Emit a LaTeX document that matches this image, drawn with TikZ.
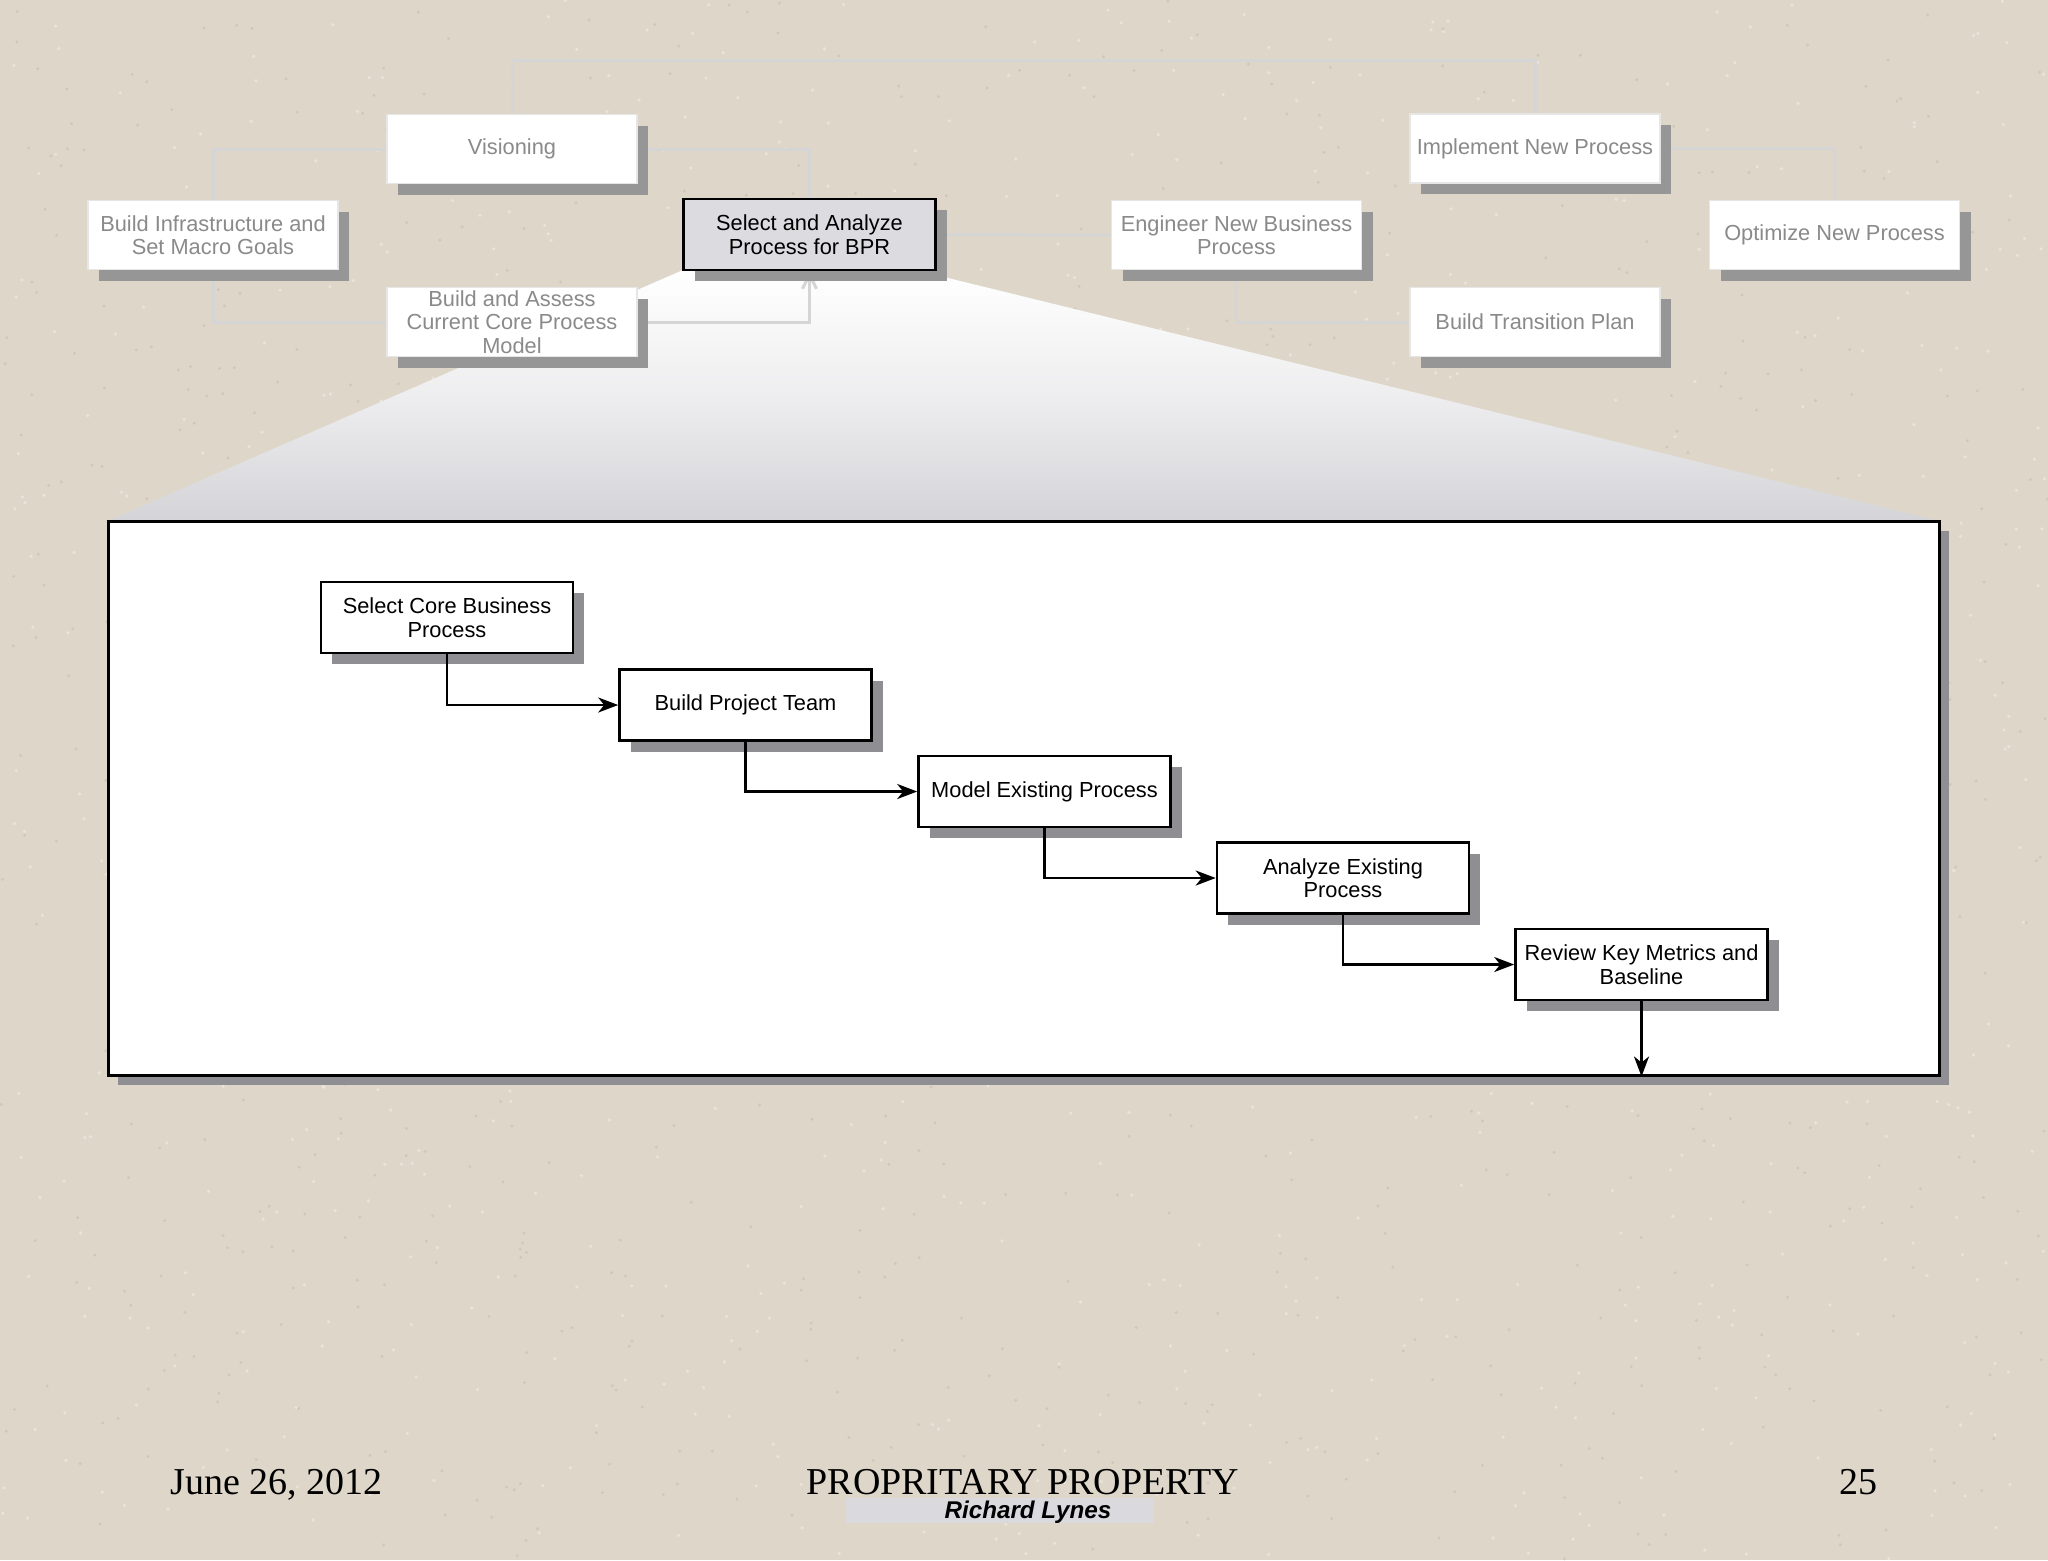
\documentclass[tikz,border=0pt]{standalone}
\usepackage{fontspec}
\setmainfont{Liberation Sans}
\newfontfamily\serifft{Liberation Serif}
\usetikzlibrary{arrows.meta,shadows}
\definecolor{bgbeige}{HTML}{DED7C9}
\definecolor{speckdark}{HTML}{C4BBAA}
\definecolor{specklight}{HTML}{EEEAE2}
\definecolor{funnelgray}{HTML}{D4D4D8}
\definecolor{fadetext}{HTML}{8A8A8A}
\definecolor{fadeborder}{HTML}{E6E6E6}
\definecolor{fadeshadow}{HTML}{969696}
\definecolor{fadeline}{HTML}{D5D5D5}
\definecolor{innershadow}{HTML}{8F8F93}
\definecolor{selfill}{HTML}{DCDCE0}
\definecolor{tagfill}{HTML}{DADADE}
\pgfdeclarelayer{bglayer}
\pgfsetlayers{bglayer,main}
\begin{document}
\begin{tikzpicture}[x=0.5pt,y=-0.5pt,
  boxfont/.style={font=\fontsize{10.9}{11.8}\selectfont},
  fadebox/.style={boxfont, draw=fadeborder, line width=0.9pt, fill=white, text=fadetext,
    minimum width=125pt, minimum height=34.5pt, inner sep=1pt, align=center,
    drop shadow={shadow xshift=5.5pt, shadow yshift=-5.5pt, fill=fadeshadow, opacity=1}},
  selbox/.style={boxfont, draw=black, line width=1.4pt, fill=selfill, text=black,
    minimum width=126pt, minimum height=35.5pt, inner sep=1pt, align=center,
    drop shadow={shadow xshift=5.5pt, shadow yshift=-5.5pt, fill=fadeshadow, opacity=1}},
  stepbox/.style={boxfont, draw=black, line width=1.3pt, fill=white, text=black,
    minimum width=126pt, minimum height=35.5pt, inner sep=1pt, align=center,
    drop shadow={shadow xshift=5.5pt, shadow yshift=-5.5pt, fill=innershadow, opacity=1}},
  panelbox/.style={draw=black, line width=1.5pt, fill=white,
    minimum width=915.5pt, minimum height=277pt, inner sep=0pt,
    drop shadow={shadow xshift=5pt, shadow yshift=-5pt, fill=innershadow, opacity=1}},
  faint/.style={draw=fadeline, line width=1.5pt},
  flow/.style={draw=black, line width=1.3pt, -{Stealth[length=10pt,width=7.5pt,inset=3pt]}},
  foot/.style={font=\serifft\fontsize{19}{22}\selectfont, inner sep=0pt, text=black}
]
\useasboundingbox (0,0) rectangle (2048,1560);

% big panel
\node[panelbox] (panel) at (1023.5,798) {};

% top (faded) boxes
\node[fadebox] (vis)    at (512,149)   {Visioning};
\node[fadebox] (infra)  at (213,235)   {Build Infrastructure and\\Set Macro Goals};
\node[fadebox] (assess) at (512,322)   {Build and Assess\\Current Core Process\\Model};
\node[selbox]  (sel)    at (809.5,234.5) {Select and Analyze\\Process for BPR};
\node[fadebox] (eng)    at (1236.5,235) {Engineer New Business\\Process};
\node[fadebox] (impl)   at (1535,148.5) {Implement New Process};
\node[fadebox] (opt)    at (1834.5,235) {Optimize New Process};
\node[fadebox] (trans)  at (1535,322)  {Build Transition Plan};

% inner steps
\node[stepbox] (core)    at (447,617.5)   {Select Core Business\\Process};
\node[stepbox] (team)    at (745.5,705)   {Build Project Team};
\node[stepbox] (model)   at (1044.5,791.5) {Model Existing Process};
\node[stepbox] (analyze) at (1343,878)    {Analyze Existing\\Process};
\node[stepbox] (review)  at (1641.5,964.5) {Review Key Metrics and\\Baseline};

\draw[flow] (core.south) |- (team.west);
\draw[flow] (team.south) |- (model.west);
\draw[flow] (model.south) |- (analyze.west);
\draw[flow] (analyze.south) |- (review.west);
\draw[flow] (review.south) -- (review.south |- panel.south);

\begin{pgfonlayer}{bglayer}
  \fill[bgbeige] (0,0) rectangle (2048,1560);
  \pgfmathsetseed{4711}
  \foreach \i in {1,...,900} {
    \fill[speckdark, opacity=0.55] (2048*rnd,1560*rnd) circle (1.6);
  }
  \foreach \i in {1,...,900} {
    \fill[specklight, opacity=0.7] (2048*rnd,1560*rnd) circle (1.8);
  }
  \shade[top color=white, bottom color=funnelgray, middle color=white!60!funnelgray]
    (683,270) -- (948,278) -- (1939,521) -- (108,521) -- cycle;
  \draw[faint] (vis.north) -- ++(0,-53) -| (impl.north);
  \draw[faint] (infra.north) |- (vis.west);
  \draw[faint] (vis.east) -| (sel.north);
  \draw[faint] (infra.south) |- (assess.west);
  \draw[faint, -{Straight Barb[length=7pt,width=7pt]}] (assess.east) -| (sel.south);
  \draw[faint] (sel.east) -- (eng.west);
  \draw[faint] (eng.south) |- (trans.west);
  \draw[faint] (impl.east) -| (opt.north);
\end{pgfonlayer}

% footer
\node[foot, anchor=base west] (date) at (170,1494) {June 26, 2012};
\node[foot, anchor=base] (prop) at (1023,1494) {PROPRITARY PROPERTY};
\node[foot, anchor=base] (pnum) at (1858,1494) {25};
\node[fill=tagfill, minimum width=154pt, minimum height=12.5pt, inner sep=0pt] (tag) at (1000,1510.5) {};
\node[font=\fontsize{12.1}{14}\selectfont\bfseries\itshape, anchor=base, inner sep=0pt] (author) at (1028,1518) {Richard Lynes};
\end{tikzpicture}
\end{document}
